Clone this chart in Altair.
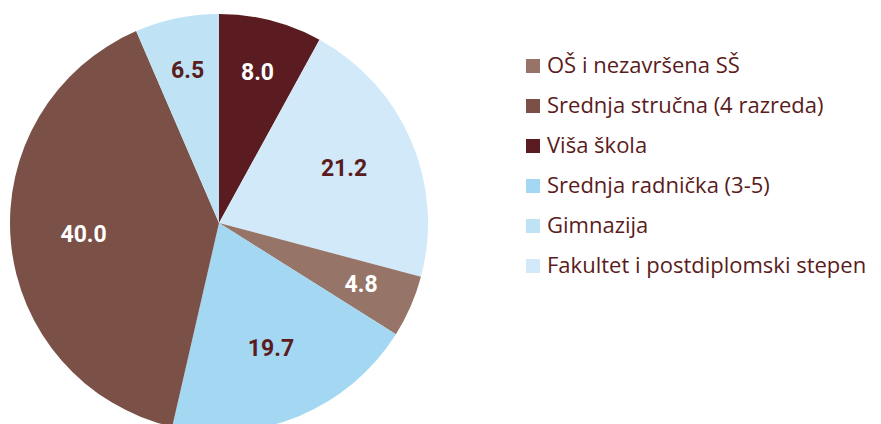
import altair as alt
import pandas as pd

# slices in clockwise order starting at 12 o'clock
categories = [
    "Viša škola",
    "Fakultet i postdiplomski stepen",
    "OŠ i nezavršena SŠ",
    "Srednja radnička (3-5)",
    "Srednja stručna (4 razreda)",
    "Gimnazija",
]
values = [8.0, 21.2, 4.8, 19.7, 40.0, 6.5]

legend_order = [
    "OŠ i nezavršena SŠ",
    "Srednja stručna (4 razreda)",
    "Viša škola",
    "Srednja radnička (3-5)",
    "Gimnazija",
    "Fakultet i postdiplomski stepen",
]
legend_colors = ["#977468", "#7a5047", "#5a1c20", "#a3d7f2", "#bfe3f5", "#d1e9f8"]

df = pd.DataFrame({"cat": categories, "value": values, "idx": list(range(len(values)))})
df["label"] = df["value"].map(lambda v: f"{v:.1f}")

dark = ["Viša škola", "Srednja stručna (4 razreda)", "OŠ i nezavršena SŠ"]
dark_test = " || ".join([f"datum.cat == '{d}'" for d in dark])

arc = alt.Chart(df).mark_arc(radius=209).encode(
    theta=alt.Theta("value:Q", stack=True),
    order=alt.Order("idx:Q"),
    color=alt.Color(
        "cat:N",
        scale=alt.Scale(domain=legend_order, range=legend_colors),
        legend=alt.Legend(
            title=None,
            orient="none",
            legendX=514,
            legendY=47,
            symbolType="square",
            symbolSize=196,
            symbolStrokeWidth=0,
            labelFont="Open Sans",
            labelFontSize=22,
            labelColor="#5a1c20",
            labelOffset=3,
            rowPadding=18,
            padding=0,
            labelLimit=400,
        ),
    ),
)

txt_color = alt.condition(dark_test, alt.value("white"), alt.value("#5a1c20"))

stacked = (
    alt.Chart(df)
    .transform_stack(as_=["v0", "v1"], stack="value", groupby=[], sort=[alt.SortField("idx")])
    .transform_calculate(mid="(datum.v0 + datum.v1) / 2")
)

text_big = stacked.transform_filter("datum.value >= 10").mark_text(
    radius=136, font="Roboto", fontWeight="bold", fontSize=23
).encode(theta=alt.Theta("mid:Q", stack=None), text="label:N", color=txt_color)

text_small = stacked.transform_filter("datum.value < 10").mark_text(
    radius=155, font="Roboto", fontWeight="bold", fontSize=23
).encode(theta=alt.Theta("mid:Q", stack=None), text="label:N", color=txt_color)

chart = (
    alt.layer(arc, text_big, text_small)
    .properties(width=422, height=430, padding=0)
    .configure_view(stroke=None)
)

chart.save("out.html", embed_options={"renderer": "svg", "actions": False})
